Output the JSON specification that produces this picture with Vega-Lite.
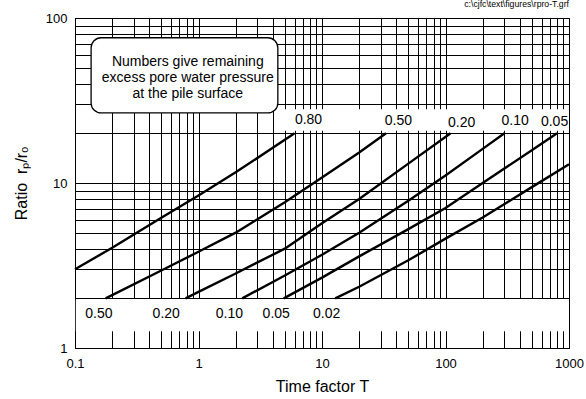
{
  "$schema": "https://vega.github.io/schema/vega-lite/v6.json",
  "width": 494,
  "height": 330,
  "autosize": {"type": "none"},
  "padding": {"left": 75, "top": 18, "right": 17, "bottom": 51},
  "background": "white",
  "title": {"text": "c:\\cjfc\\text\\figures\\rpro-T.grf", "anchor": "end", "frame": "group", "fontSize": 8.7, "fontWeight": "normal", "offset": 3, "color": "#000", "font": "Liberation Sans"},
  "config": {
    "font": "Liberation Sans",
    "view": {"stroke": "black", "strokeWidth": 1}
  },
  "datasets": {
    "curves": [
      {"c": "0.80", "T": 0.1, "R": 3.0}, {"c": "0.80", "T": 0.2, "R": 4.05}, {"c": "0.80", "T": 0.5, "R": 6.15}, {"c": "0.80", "T": 1, "R": 8.4}, {"c": "0.80", "T": 2, "R": 11.6}, {"c": "0.80", "T": 6, "R": 20},
      {"c": "0.50", "T": 0.177, "R": 2}, {"c": "0.50", "T": 0.5, "R": 2.95}, {"c": "0.50", "T": 1, "R": 3.83}, {"c": "0.50", "T": 2, "R": 5}, {"c": "0.50", "T": 5, "R": 7.65}, {"c": "0.50", "T": 10, "R": 10.8}, {"c": "0.50", "T": 20, "R": 15.3}, {"c": "0.50", "T": 33, "R": 20},
      {"c": "0.20", "T": 0.786, "R": 2}, {"c": "0.20", "T": 1, "R": 2.19}, {"c": "0.20", "T": 2, "R": 2.83}, {"c": "0.20", "T": 5, "R": 4.0}, {"c": "0.20", "T": 10, "R": 5.7}, {"c": "0.20", "T": 20, "R": 8}, {"c": "0.20", "T": 50, "R": 13.1}, {"c": "0.20", "T": 110, "R": 20},
      {"c": "0.10", "T": 2.26, "R": 2}, {"c": "0.10", "T": 5, "R": 2.75}, {"c": "0.10", "T": 10, "R": 3.67}, {"c": "0.10", "T": 20, "R": 5}, {"c": "0.10", "T": 50, "R": 7.8}, {"c": "0.10", "T": 100, "R": 11.1}, {"c": "0.10", "T": 200, "R": 16.1}, {"c": "0.10", "T": 300, "R": 20},
      {"c": "0.05", "T": 4.9, "R": 2}, {"c": "0.05", "T": 10, "R": 2.67}, {"c": "0.05", "T": 20, "R": 3.59}, {"c": "0.05", "T": 50, "R": 5.25}, {"c": "0.05", "T": 100, "R": 7.05}, {"c": "0.05", "T": 200, "R": 10}, {"c": "0.05", "T": 500, "R": 15.8}, {"c": "0.05", "T": 800, "R": 20},
      {"c": "0.02", "T": 12.8, "R": 2}, {"c": "0.02", "T": 20, "R": 2.35}, {"c": "0.02", "T": 50, "R": 3.4}, {"c": "0.02", "T": 100, "R": 4.6}, {"c": "0.02", "T": 200, "R": 6.18}, {"c": "0.02", "T": 500, "R": 9.44}, {"c": "0.02", "T": 1000, "R": 13}
    ],
    "labels": [
      {"t": "0.80", "T": 7.78, "R": 24.0}, {"t": "0.50", "T": 41.6, "R": 23.7}, {"t": "0.20", "T": 135, "R": 23.2}, {"t": "0.10", "T": 366, "R": 23.7}, {"t": "0.05", "T": 764, "R": 23.4},
      {"t": "0.50", "T": 0.156, "R": 1.617}, {"t": "0.20", "T": 0.548, "R": 1.617}, {"t": "0.10", "T": 1.78, "R": 1.617}, {"t": "0.05", "T": 4.26, "R": 1.617}, {"t": "0.02", "T": 10.9, "R": 1.617}
    ],
    "masks": [
      {"T": 0.1015, "T2": 985, "R": 1.264, "R2": 1.98},
      {"T": 4.6, "T2": 985, "R": 20.7, "R2": 28}
    ],
    "box": [
      {"T": 0.135, "T2": 4.39, "R": 26.6, "R2": 75.9}
    ],
    "note": [
      {"T": 0.819, "R": 54.0, "t": "Numbers give remaining"},
      {"T": 0.819, "R": 43.4, "t": "excess pore water pressure"},
      {"T": 0.819, "R": 34.7, "t": "at the pile surface"}
    ]
  },
  "encoding": {
    "x": {
      "field": "T", "type": "quantitative",
      "scale": {"type": "log", "domain": [0.1, 1000], "nice": false},
      "axis": {
        "title": "Time factor T", "titleFontSize": 16, "titleFontWeight": "normal", "titleColor": "#000", "titlePadding": 8,
        "values": [0.1,0.2,0.3,0.4,0.5,0.6,0.7,0.8,0.9,1,2,3,4,5,6,7,8,9,10,20,30,40,50,60,70,80,90,100,200,300,400,500,600,700,800,900,1000],
        "labelExpr": "indexof([0.1,1,10,100,1000], datum.value) >= 0 ? format(datum.value, '~g') : ''",
        "labelFontSize": 13, "labelColor": "#000", "labelPadding": 9, "labelFlush": false, "labelOverlap": false,
        "ticks": false, "domain": true, "domainColor": "#000",
        "grid": true, "gridColor": "#000", "gridOpacity": 1, "gridWidth": 1
      }
    },
    "y": {
      "field": "R", "type": "quantitative",
      "scale": {"type": "log", "domain": [1, 100], "nice": false},
      "axis": {
        "title": "Ratio\u00a0 r\u209a/r\u2092", "titleFontSize": 16, "titleFontWeight": "normal", "titleColor": "#000", "titlePadding": 16,
        "values": [1,2,3,4,5,6,7,8,9,10,20,30,40,50,60,70,80,90,100],
        "labelExpr": "indexof([1,10,100], datum.value) >= 0 ? format(datum.value, '~g') : ''",
        "labelFontSize": 13, "labelColor": "#000", "labelPadding": 8, "labelFlush": false, "labelOverlap": false,
        "ticks": false, "domain": true, "domainColor": "#000",
        "grid": true, "gridColor": "#000", "gridOpacity": 1, "gridWidth": 1
      }
    }
  },
  "layer": [
    {
      "data": {"name": "masks"},
      "mark": {"type": "rect", "fill": "white", "stroke": null},
      "encoding": {"x2": {"field": "T2"}, "y2": {"field": "R2"}}
    },
    {
      "data": {"name": "box"},
      "mark": {"type": "rect", "fill": "white", "stroke": "black", "strokeWidth": 1.3, "cornerRadius": 10},
      "encoding": {"x2": {"field": "T2"}, "y2": {"field": "R2"}}
    },
    {
      "data": {"name": "note"},
      "mark": {"type": "text", "fontSize": 14, "align": "center", "baseline": "middle", "color": "#000"},
      "encoding": {"text": {"field": "t"}}
    },
    {
      "data": {"name": "curves"},
      "mark": {"type": "line", "color": "#000", "strokeWidth": 2.4, "strokeCap": "butt"},
      "encoding": {"detail": {"field": "c"}, "order": {"field": "T", "type": "quantitative"}}
    },
    {
      "data": {"name": "labels"},
      "mark": {"type": "text", "fontSize": 14, "align": "center", "baseline": "middle", "color": "#000"},
      "encoding": {"text": {"field": "t"}}
    }
  ]
}
